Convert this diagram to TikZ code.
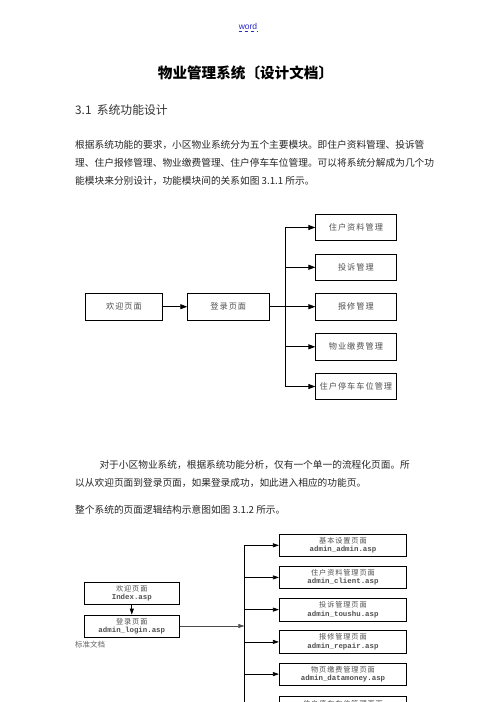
\documentclass[tikz,border=0pt]{standalone}
\usepackage{fontspec}
\setmainfont{Liberation Sans}
\setmonofont{Liberation Mono}
\newfontfamily\cjk{Noto Sans CJK SC}
\newfontfamily\cjkwide[LetterSpace=12]{Noto Sans CJK SC}
\usetikzlibrary{positioning}
\usetikzlibrary{arrows.meta}

\definecolor{boxtext}{RGB}{80,80,80}
\definecolor{wordblue}{RGB}{40,40,200}

\tikzset{
  bodyline/.style={anchor=west, inner sep=0pt, text=black!85, font=\cjk\fontsize{9.7}{12}\selectfont},
  modbox/.style={draw, line width=0.8pt, minimum width=80.3pt, minimum height=26.7pt, inner sep=0pt, text=boxtext, font=\cjkwide\fontsize{8.2}{10}\selectfont},
  pagebox/.style={draw, line width=0.7pt, minimum width=127.4pt, minimum height=22.5pt, inner sep=0pt, align=center, text=boxtext, font=\cjkwide\fontsize{7.2}{8.4}\selectfont},
  arr/.style={line width=0.8pt, -{Triangle[length=7pt,width=5pt]}},
  smallarr/.style={line width=0.7pt, -{Triangle[length=6pt,width=4pt]}},
}

\newcommand{\aspname}[1]{{\ttfamily\bfseries\fontsize{7.4}{8.4}\selectfont #1}}

\begin{document}
\begin{tikzpicture}[x=1pt, y=-1pt]
    % Page
    \clip (0,0) rectangle (496,702);
    \fill[white] (0,0) rectangle (496,702);

    % Header and title
    \node[inner sep=0pt, text=wordblue, font=\fontsize{8.5}{10}\selectfont] (word) at (248,26.5) {word};
    \draw[wordblue, dashed, line width=0.5pt] ([yshift=-1.5pt]word.south west) -- ([yshift=-1.5pt]word.south east);
    \node[inner sep=0pt, font=\cjk\bfseries\fontsize{14.6}{16}\selectfont] (title) at (245.5,73.3) {物业管理系统〔设计文档〕};
    \node[anchor=west, inner sep=0pt, text=black!80, font=\cjk\fontsize{11.8}{14}\selectfont] (sec) at (75,110) {3.1\ \ 系统功能设计};

    % First paragraph
    \node[bodyline] (p1a) at (75,145) {根据系统功能的要求，小区物业系统分为五个主要模块。即住户资料管理、投诉管};
    \node[bodyline] (p1b) at (75,163.3) {理、住户报修管理、物业缴费管理、住户停车车位管理。可以将系统分解成为几个功};
    \node[bodyline] (p1c) at (75,180.5) {能模块来分别设计，功能模块间的关系如图 3.1.1 所示。};

    % Diagram 3.1.1
    \node[modbox, minimum width=77.7pt] (welcome) at (124,306.7) {欢迎页面};
    \node[modbox, minimum width=81.3pt] (login) at (228.3,306.7) {登录页面};
    \node[modbox] (m1) at (355.9,227.5) {住户资料管理};
    \node[modbox] (m2) at (355.9,267.3) {投诉管理};
    \node[modbox] (m3) at (355.9,306.7) {报修管理};
    \node[modbox] (m4) at (355.9,346.8) {物业缴费管理};
    \node[modbox] (m5) at (355.9,386.5) {住户停车车位管理};
    \coordinate (j1) at (285,306.7);

    \draw[arr] (welcome) -- (login);
    \draw[line width=0.8pt] (login.east) -- (j1);
    \draw[line width=0.8pt] (m1.west -| j1) -- (m5.west -| j1);
    \foreach \i in {1,...,5}
        \draw[arr] (m\i.west -| j1) -- (m\i.west);

    % Second paragraph
    \node[bodyline] (p2a) at (99.3,465) {对于小区物业系统，根据系统功能分析，仅有一个单一的流程化页面。所};
    \node[bodyline] (p2b) at (75,482.7) {以从欢迎页面到登录页面，如果登录成功，如此进入相应的功能页。};
    \node[bodyline] (p2c) at (75,509.3) {整个系统的页面逻辑结构示意图如图 3.1.2 所示。};

    % Diagram 3.1.2
    \node[pagebox, minimum width=95pt, minimum height=22pt] (index) at (131.8,593.3) {欢迎页面\\\aspname{Index.asp}};
    \node[pagebox, minimum width=95pt, minimum height=22pt] (adlogin) at (131.8,626) {登录页面\\\aspname{admin\_login.asp}};
    \node[pagebox] (q1) at (343,545.3) {基本设置页面\\\aspname{admin\_admin.asp}};
    \node[pagebox] (q2) at (343,577.4) {住户资料管理页面\\\aspname{admin\_client.asp}};
    \node[pagebox] (q3) at (343,609.6) {投诉管理页面\\\aspname{admin\_toushu.asp}};
    \node[pagebox] (q4) at (343,641.9) {报修管理页面\\\aspname{admin\_repair.asp}};
    \node[pagebox] (q5) at (343,674.1) {物页缴费管理页面\\\aspname{admin\_datamoney.asp}};
    \node[pagebox] (q6) at (343,707.6) {住户停车车位管理页面\\\phantom{\aspname{admin}}};
    \coordinate (j2) at (244.3,545.3);
    \coordinate (j2end) at (244.3,730);

    \draw[smallarr] (index) -- (adlogin);
    \draw[black!70, line width=0.5pt, -{Triangle[length=6pt,width=4pt]}] (adlogin.east) -- (adlogin.east -| j2);
    \draw[line width=0.7pt] (j2) -- (j2end);
    \foreach \i in {1,...,6}
        \draw[smallarr] (q\i.west -| j2) -- (q\i.west);

    % Footer
    \node[inner sep=0pt, text=black!60, font=\cjk\fontsize{7.5}{9}\selectfont] (footer) at (90,644.5) {标准文档};
\end{tikzpicture}
\end{document}
